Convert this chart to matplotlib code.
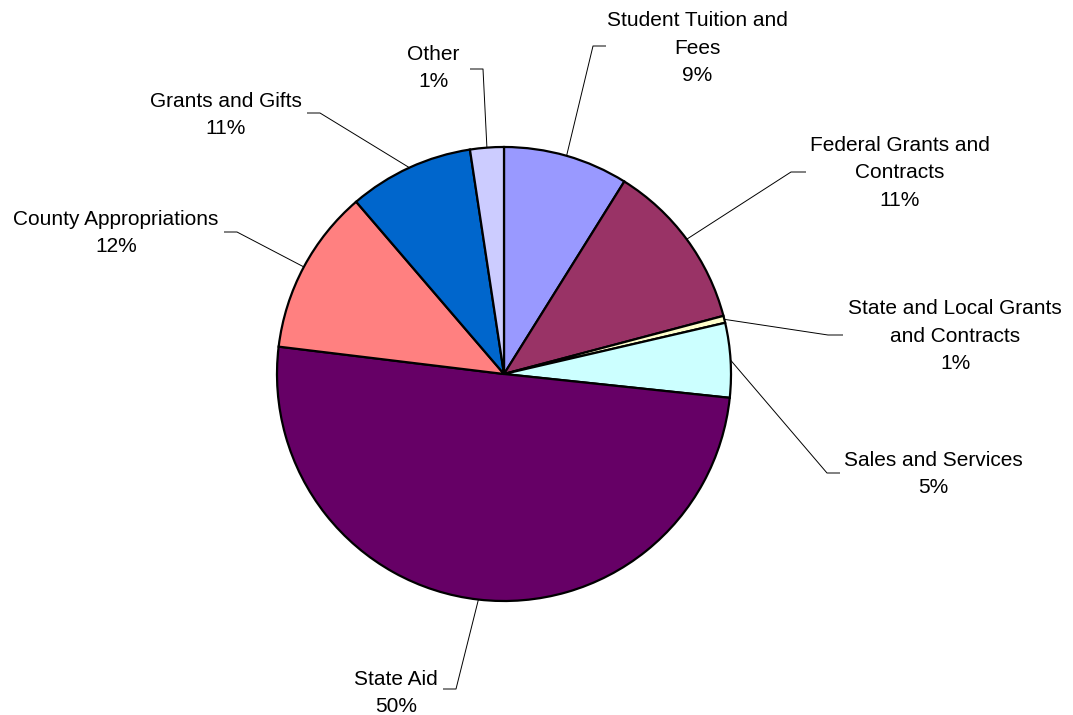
import numpy as np
import matplotlib.pyplot as plt

plt.rcParams['font.family'] = ['Liberation Sans', 'DejaVu Sans']

# revenue sources, clockwise from 12 o'clock (shares)
sources = ['Student Tuition and\nFees', 'Federal Grants and\nContracts',
           'State and Local Grants\nand Contracts', 'Sales and Services',
           'State Aid', 'County Appropriations', 'Grants and Gifts', 'Other']
shares = [8.9, 12.0, 0.5, 5.3, 50.3, 11.8, 8.9, 2.4]
pct_labels = ['9%', '11%', '1%', '5%', '50%', '12%', '11%', '1%']
colors = ['#9999FF', '#993366', '#FFFFCC', '#CCFFFF', '#660066',
          '#FF8080', '#0066CC', '#CCCCFF']

# label layout in pixels from top-left: text centre, leader elbow, leader end x
text_pos = [(697, 48), (900, 173), (955, 336), (933, 474),
            (396, 693), (116, 233), (226, 115), (433, 68)]
elbows = [(593, 46), (791, 172), (828, 335), (827, 473),
          (456, 689), (237, 232), (320, 113), (483, 69)]
ends_x = [606, 806, 843, 840, 443, 224, 307, 470]

W, H = 1073, 715
cx, cy, r = 504, 374, 227

fig = plt.figure(figsize=(W / 100, H / 100), dpi=100)
ax = fig.add_axes([0, 0, 1, 1])

wedges, _ = ax.pie(shares, colors=colors, startangle=90, counterclock=False,
                   center=(cx, H - cy), radius=r, frame=True,
                   wedgeprops=dict(edgecolor='black', linewidth=1.6))
ax.set_xlim(0, W)
ax.set_ylim(0, H)
ax.set_aspect('equal')
ax.axis('off')

for w, name, pct, tp, el, ex in zip(wedges, sources, pct_labels,
                                     text_pos, elbows, ends_x):
    mid = np.deg2rad((w.theta1 + w.theta2) / 2)
    ax0 = cx + r * np.cos(mid)
    ay0 = (H - cy) + r * np.sin(mid)
    ax.plot([ax0, el[0], ex], [ay0, H - el[1], H - el[1]],
            color='black', linewidth=0.7, solid_capstyle='butt')
    ax.text(tp[0], H - tp[1], name + '\n' + pct, ha='center', va='center',
            fontsize=15, linespacing=1.55, color='black')

fig.savefig('out.png', dpi=100)
